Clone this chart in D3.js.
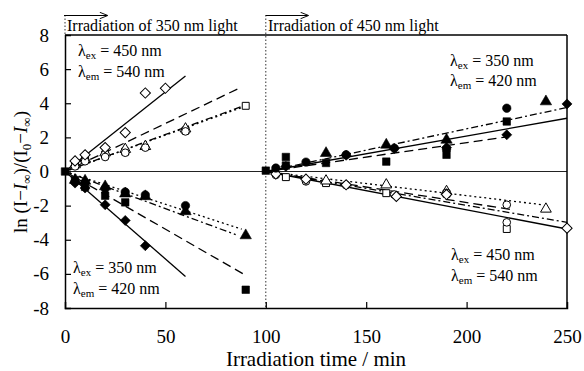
<!DOCTYPE html>
<html><head><meta charset="utf-8">
<script src="https://cdn.jsdelivr.net/npm/d3@7"></script>
<style>
html,body{margin:0;padding:0;background:#fff;}
svg{display:block;font-family:"Liberation Serif","Times New Roman","DejaVu Serif",serif;}
</style></head>
<body><svg id="c" width="584" height="371"></svg>
<script>
// ---- data ----
const xTicks = [0, 50, 100, 150, 200, 250];
const yTicks = [-8, -6, -4, -2, 0, 2, 4, 6, 8];

// Irradiation of 350 nm light, λex=450 / λem=540 (open symbols)
const ulDiamond = [[5,0.62],[10,0.98],[20,1.4],[30,2.28],[40,4.6],[50,4.88]];
const ulSquare  = [[5,0.35],[10,0.7],[20,1.0],[30,1.17],[60,2.4],[90,3.85]];
const ulTriangle= [[5,0.4],[10,0.75],[20,1.1],[30,1.3],[40,1.47],[60,2.5]];
const ulCircle  = [[5,0.3],[10,0.6],[20,0.85],[30,1.1],[40,1.4],[60,2.35]];
// Irradiation of 350 nm light, λex=350 / λem=420 (filled symbols)
const llDiamond = [[5,-0.68],[10,-0.97],[20,-1.95],[30,-2.87],[40,-4.35]];
const llSquare  = [[0,0],[5,-0.5],[10,-0.9],[20,-1.42],[30,-1.81],[90,-6.93]];
const llTriangle= [[5,-0.5],[10,-0.55],[20,-0.88],[30,-1.3],[40,-1.46],[60,-2.34],[90,-3.75]];
const llCircle  = [[5,-0.6],[10,-0.65],[20,-1.0],[30,-1.2],[40,-1.37],[60,-2.0]];
// Irradiation of 450 nm light, λex=350 / λem=420 (filled symbols)
const urDiamond = [[110,0.3],[140,0.95],[164,1.35],[190,1.4],[220,2.15],[250,3.96]];
const urSquare  = [[100,0.05],[110,0.85],[110,0.35],[130,0.5],[160,0.58],[190,0.98],[220,2.93]];
const urTriangle= [[130,1.07],[160,1.56],[190,1.85],[239.5,4.1]];
const urCircle  = [[105,0.2],[120,0.55],[140,0.98],[164,1.37],[190,1.3],[220,3.71]];
// Irradiation of 450 nm light, λex=450 / λem=540 (open symbols)
const lrDiamond = [[105,-0.15],[120,-0.45],[140,-0.78],[165,-1.46],[190,-1.35],[250,-3.32]];
const lrSquare  = [[110,-0.33],[130,-0.68],[160,-1.27],[190,-1.3],[220,-3.37]];
const lrTriangle= [[130,-0.55],[160,-0.78],[190,-1.17],[239.5,-2.2]];
const lrCircle  = [[105,-0.2],[120,-0.58],[140,-0.8],[164,-1.35],[190,-1.25],[220,-1.95],[220,-2.98]];

// fitted lines (data-unit end points)
const fitSolid    = [[[0,0],[60,5.6]],[[0,0],[60,-6.15]],[[100,0],[250,3.12]],[[100,0],[250,-3.37]]];
const fitDashed   = [[[0,0],[88,4.95]],[[0,0],[90.5,-6.12]],[[100,0],[221,2.05]],[[100,0],[223,-2.24]]];
const fitDashDot  = [[[0,0],[90,3.9]],[[0,0],[85,-3.7]],[[100,0],[250,3.75]],[[100,0],[250,-2.98]]];
const fitDotted   = [[[0,0],[88,3.75]],[[0,0],[88,-3.38]],[[100,0],[238,-1.95]]];

// ---- drawing ----
const svg = d3.select("#c");
const x = d3.scaleLinear().domain([0,250]).range([65,567]);
const y = d3.scaleLinear().domain([-8,8]).range([308,35]);
const font = '"Liberation Serif","Times New Roman","DejaVu Serif",serif';

// zero line
svg.append("line").attr("x1",x(0)).attr("x2",x(250)).attr("y1",y(0)).attr("y2",y(0))
  .attr("stroke","#222").attr("stroke-width",1.1);

// dotted verticals
svg.append("line").attr("x1",x(0)).attr("x2",x(0)).attr("y1",15).attr("y2",y(8))
  .attr("stroke","#333").attr("stroke-width",1).attr("stroke-dasharray","1.5,2");
svg.append("line").attr("x1",x(100)).attr("x2",x(100)).attr("y1",15).attr("y2",y(-8))
  .attr("stroke","#333").attr("stroke-width",1).attr("stroke-dasharray","1.5,2");

// frame top/right
svg.append("line").attr("x1",x(0)).attr("x2",x(250)).attr("y1",y(8)).attr("y2",y(8)).attr("stroke","#000").attr("stroke-width",1.5);
svg.append("line").attr("x1",x(250)).attr("x2",x(250)).attr("y1",y(8)).attr("y2",y(-8)).attr("stroke","#000").attr("stroke-width",1.5);

// axes
const gx = svg.append("g").attr("transform",`translate(0,${y(-8)})`)
  .call(d3.axisBottom(x).tickValues(xTicks).tickSize(-6).tickPadding(22).tickFormat(d3.format("d")));
const gy = svg.append("g").attr("transform",`translate(${x(0)},0)`)
  .call(d3.axisLeft(y).tickValues(yTicks).tickSize(-6).tickPadding(16).tickFormat(d=>d<0?"-"+Math.abs(d):d));
[gx,gy].forEach(g=>{
  g.attr("font-family",null);
  g.select(".domain").attr("stroke","#000").attr("stroke-width",1.5);
  g.selectAll(".tick line").attr("stroke","#000").attr("stroke-width",1.2);
  g.selectAll(".tick text").style("font-family",font).attr("font-size",19).attr("fill","#000");
});
gx.selectAll(".tick").filter(d=>d===0||d===250).select("line").remove();
gy.selectAll(".tick").filter(d=>d===8||d===-8).select("line").remove();

// fit lines
const line = d3.line().x(d=>x(d[0])).y(d=>y(d[1]));
function drawFits(arr, dash){
  svg.append("g").selectAll("path").data(arr).join("path")
    .attr("d",line).attr("fill","none").attr("stroke","#000").attr("stroke-width",1.3)
    .attr("stroke-dasharray",dash);
}
drawFits(fitSolid,null);
drawFits(fitDashed,"9,5");
drawFits(fitDashDot,"7,3,2,3");
drawFits(fitDotted,"2,3");

// markers
function drawMarks(data, type, filled, size, rot){
  svg.append("g").selectAll("path").data(data).join("path")
    .attr("d",d3.symbol().type(type).size(size))
    .attr("transform",d=>`translate(${x(d[0])},${y(d[1])}) rotate(${rot||0})`)
    .attr("fill",filled?"#000":"#fff").attr("stroke","#000").attr("stroke-width",filled?0.6:1);
}
drawMarks(ulSquare,d3.symbolSquare,false,48);
drawMarks(ulTriangle,d3.symbolTriangle,false,50);
drawMarks(ulCircle,d3.symbolCircle,false,46);
drawMarks(ulDiamond,d3.symbolSquare,false,52,45);
drawMarks(lrSquare,d3.symbolSquare,false,48);
drawMarks(lrTriangle,d3.symbolTriangle,false,50);
drawMarks(lrCircle,d3.symbolCircle,false,46);
drawMarks(lrDiamond,d3.symbolSquare,false,52,45);
drawMarks(llSquare,d3.symbolSquare,true,56);
drawMarks(llTriangle,d3.symbolTriangle,true,56);
drawMarks(llCircle,d3.symbolCircle,true,56);
drawMarks(llDiamond,d3.symbolSquare,true,50,45);
drawMarks(urSquare,d3.symbolSquare,true,56);
drawMarks(urTriangle,d3.symbolTriangle,true,56);
drawMarks(urCircle,d3.symbolCircle,true,56);
drawMarks(urDiamond,d3.symbolSquare,true,50,45);

// lambda annotations
function lam(px, py, sub, val){
  const t = svg.append("text").attr("x",px).attr("y",py).style("font-family",font).attr("font-size",16).attr("fill","#000");
  t.append("tspan").text("λ");
  t.append("tspan").attr("font-size",11).attr("dy",3).text(sub);
  t.append("tspan").attr("dy",-3).text(" = " + val + " nm");
}
lam(78,56,"ex","450"); lam(78,77,"em","540");
lam(450,66,"ex","350"); lam(450,86,"em","420");
lam(73,273,"ex","350"); lam(73,294,"em","420");
lam(451,260,"ex","450"); lam(451,281,"em","540");

// top labels and arrows
svg.append("defs").append("marker").attr("id","ah").attr("viewBox","0 0 10 10").attr("refX",9).attr("refY",5)
  .attr("markerWidth",10).attr("markerHeight",8).attr("markerUnits","userSpaceOnUse").attr("orient","auto")
  .append("path").attr("d","M0,1 L10,5 L0,9").attr("fill","none").attr("stroke","#000").attr("stroke-width",1.2);
[[x(0)-1,x(0)+42],[x(100),x(100)+42]].forEach(a=>{
  svg.append("line").attr("x1",a[0]).attr("x2",a[1]).attr("y1",15.5).attr("y2",15.5)
    .attr("stroke","#000").attr("stroke-width",1.2).attr("marker-end","url(#ah)");
});
svg.append("text").attr("x",67).attr("y",31).style("font-family",font).attr("font-size",16).text("Irradiation of 350 nm light");
svg.append("text").attr("x",268).attr("y",31).style("font-family",font).attr("font-size",16).text("Irradiation of 450 nm light");

// axis titles
svg.append("text").attr("x",316).attr("y",366).attr("text-anchor","middle").style("font-family",font)
  .attr("font-size",21).text("Irradiation time / min");
const yl = svg.append("text").attr("transform","translate(27,172) rotate(-90)").attr("text-anchor","middle")
  .style("font-family",font).attr("font-size",19);
yl.append("tspan").text("ln (I−");
yl.append("tspan").attr("font-style","italic").text("I");
yl.append("tspan").attr("font-size",13).attr("dy",4).text("∞");
yl.append("tspan").attr("dy",-4).text(")/(I");
yl.append("tspan").attr("font-size",13).attr("dy",4).text("0");
yl.append("tspan").attr("dy",-4).text("−");
yl.append("tspan").attr("font-style","italic").text("I");
yl.append("tspan").attr("font-size",13).attr("dy",4).text("∞");
yl.append("tspan").attr("dy",-4).text(")");
</script></body></html>
